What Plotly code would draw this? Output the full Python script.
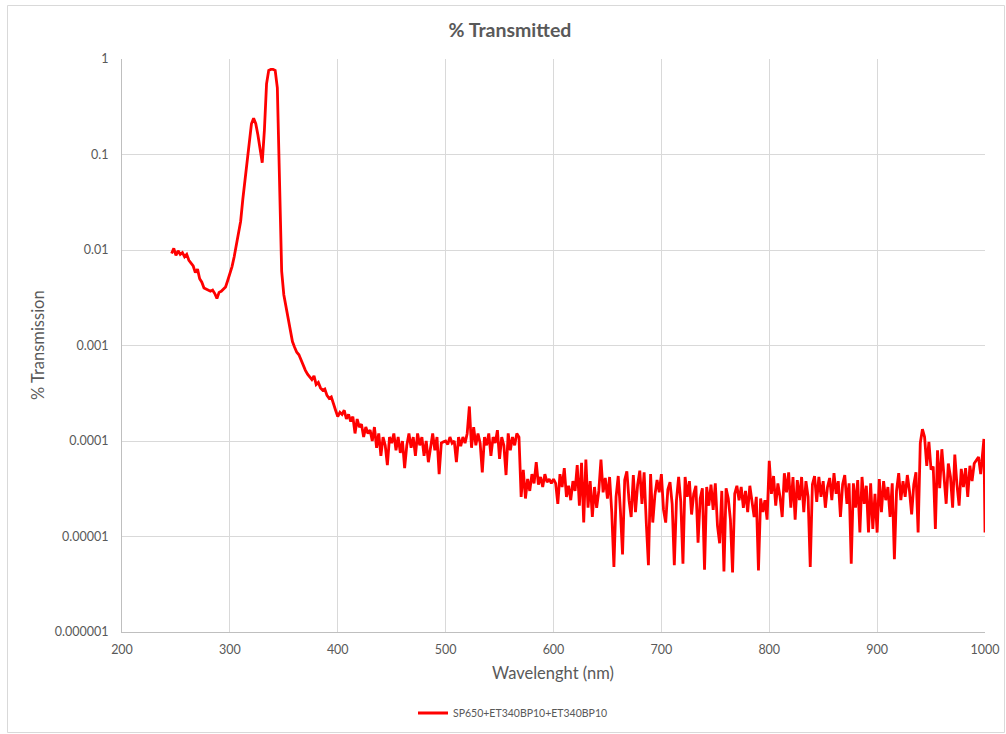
import plotly.graph_objects as go

# ---- data ----
series_name = "SP650+ET340BP10+ET340BP10"

transmission = [
    # 246-264
    0.0092, 0.0104, 0.0088, 0.0098, 0.0090, 0.0094, 0.0085, 0.0090, 0.0078, 0.0072,
    # 266-284
    0.0068, 0.0058, 0.0063, 0.0050, 0.0046, 0.0040, 0.0039, 0.0038, 0.0037, 0.0038,
    # 286-304
    0.0035, 0.0031, 0.0036, 0.0037, 0.0039, 0.0041, 0.0048, 0.0057, 0.0067, 0.0085,
    # 306-324
    0.0110, 0.0150, 0.0200, 0.0340, 0.0560, 0.0900, 0.1500, 0.2100, 0.2400, 0.2100,
    # 326-344
    0.1600, 0.1100, 0.0820, 0.1800, 0.5500, 0.7600, 0.7800, 0.7800, 0.7600, 0.5000,
    # 346-364
    0.0400, 0.0060, 0.0034, 0.0025, 0.0019, 0.0014, 0.0011, 0.00096, 0.00085, 0.00080,
    # 366-384
    0.00070, 0.00060, 0.00055, 0.00050, 0.00047, 0.00044, 0.00048, 0.00039, 0.00041, 0.00036,
    # 386-404
    0.00034, 0.00035, 0.00030, 0.00028, 0.00029, 0.00024, 0.00021, 0.00018, 0.00020, 0.00019,
    # 406-424
    0.00021, 0.00017, 0.00019, 0.00016, 0.00018, 0.00012, 0.00017, 0.00014, 0.00015, 0.00011,
    # 426-444
    0.00014, 0.00012, 0.00013, 0.00010, 0.00014, 0.000085, 0.00012, 0.00007, 0.00011, 0.00009,
    # 446-464
    0.000056, 0.00011, 0.000095, 0.00012, 0.00008, 0.00011, 0.000075, 0.00010, 0.000052, 0.00009,
    # 466-484
    0.00012, 0.000085, 0.00011, 0.00007, 0.00012, 0.00009, 0.00011, 0.00007, 0.00010, 0.00006,
    # 486-504
    0.000085, 0.00012, 0.00008, 0.00011, 0.000045, 0.000095, 0.000098, 0.00010, 0.000092, 0.00011,
    # 506-524
    0.000095, 0.00010, 0.00006, 0.00011, 0.000088, 0.00011, 0.000095, 0.00012, 0.00023, 0.000085,
    # 526-544
    0.00014, 0.00009, 0.00012, 0.000095, 0.000047, 0.00011, 0.00009, 0.00012, 0.00007, 0.00011,
    # 546-564
    0.000095, 0.00013, 0.000065, 0.00011, 0.00009, 0.000044, 0.00012, 0.00008, 0.00011, 0.00009,
    # 566-584
    0.00012, 0.00011, 0.000026, 0.00005, 0.000025, 0.00004, 0.00003, 0.000045, 0.000036, 0.00006,
    # 586-604
    3.5e-5, 4.2e-5, 3.3e-5, 4.5e-5, 3.7e-5, 4.0e-5, 3.6e-5, 4.0e-5, 3.6e-5, 2.2e-5,
    # 606-624
    4.5e-5, 3.3e-5, 5.2e-5, 2.6e-5, 3.4e-5, 2.4e-5, 3.8e-5, 3.0e-5, 5.6e-5, 2.1e-5,
    # 626-644
    5.9e-5, 1.4e-5, 6.4e-5, 2.0e-5, 3.8e-5, 1.6e-5, 3.3e-5, 2.0e-5, 3.0e-5, 6.4e-5,
    # 646-664
    2.9e-5, 4.1e-5, 2.5e-5, 4.2e-5, 1.8e-5, 4.8e-6, 2.6e-5, 4.3e-5, 1.9e-5, 6.5e-6,
    # 666-684
    3.9e-5, 4.8e-5, 2.4e-5, 1.6e-5, 4.4e-5, 1.8e-5, 3.5e-5, 4.9e-5, 2.2e-5, 4.7e-5,
    # 686-704
    1.4e-5, 5.0e-6, 4.5e-5, 1.4e-5, 2.7e-5, 3.9e-5, 2.9e-5, 4.5e-5, 1.9e-5, 1.4e-5,
    # 706-724
    3.1e-5, 3.7e-5, 2.2e-5, 5.0e-6, 2.4e-5, 4.2e-5, 2.3e-5, 5.2e-6, 4.2e-5, 2.6e-5,
    # 726-744
    3.8e-5, 1.7e-5, 2.8e-5, 3.4e-5, 8.6e-6, 2.5e-5, 3.2e-5, 4.5e-6, 3.3e-5, 2.1e-5,
    # 746-764
    3.5e-5, 1.9e-5, 3.6e-5, 1.3e-5, 8.5e-6, 3.0e-5, 4.3e-6, 3.2e-5, 2.5e-5, 1.5e-5,
    # 766-784
    4.2e-6, 2.8e-5, 3.4e-5, 2.4e-5, 3.3e-5, 2.0e-5, 3.0e-5, 1.8e-5, 3.4e-5, 2.4e-5,
    # 786-804
    1.6e-5, 2.6e-5, 4.4e-6, 2.5e-5, 1.8e-5, 2.4e-5, 1.5e-5, 6.2e-5, 2.8e-5, 4.3e-5,
    # 806-824
    2.1e-5, 3.6e-5, 2.6e-5, 1.6e-5, 4.6e-5, 2.9e-5, 4.7e-5, 2.0e-5, 4.2e-5, 1.5e-5,
    # 826-844
    3.9e-5, 2.4e-5, 4.2e-5, 1.8e-5, 3.8e-5, 2.6e-5, 4.8e-6, 3.5e-5, 4.3e-5, 2.3e-5,
    # 846-864
    4.2e-5, 2.6e-5, 3.8e-5, 2.0e-5, 3.3e-5, 4.1e-5, 2.4e-5, 4.6e-5, 2.8e-5, 3.8e-5,
    # 866-884
    1.6e-5, 3.5e-5, 4.4e-5, 2.2e-5, 3.6e-5, 5.2e-6, 3.6e-5, 2.0e-5, 3.9e-5, 1.1e-5,
    # 886-904
    4.2e-5, 2.2e-5, 3.4e-5, 1.1e-5, 3.6e-5, 1.2e-5, 2.8e-5, 1.1e-5, 4.0e-5, 1.8e-5,
    # 906-924
    3.8e-5, 2.4e-5, 3.3e-5, 1.6e-5, 3.6e-5, 5.8e-6, 3.0e-5, 4.6e-5, 2.4e-5, 3.8e-5,
    # 926-944
    2.6e-5, 4.4e-5, 3.0e-5, 1.7e-5, 3.5e-5, 4.7e-5, 1.1e-5, 9.5e-5, 1.33e-4, 1.1e-4,
    # 946-964
    5.5e-5, 9.8e-5, 5.0e-5, 5.4e-5, 1.2e-5, 8.0e-5, 3.2e-5, 8.2e-5, 4.0e-5, 2.2e-5,
    # 966-984
    5.8e-5, 4.2e-5, 2.0e-5, 7.2e-5, 3.5e-5, 2.1e-5, 5.1e-5, 3.3e-5, 5.2e-5, 2.6e-5,
    # 986-998, 999, 1000
    5.5e-5, 3.8e-5, 5.8e-5, 6.3e-5, 6.8e-5, 4.5e-5, 7.5e-5, 1.05e-4, 1.1e-5,
]

wavelength = list(range(246, 999, 2)) + [999, 1000]

x_ticks = [200, 300, 400, 500, 600, 700, 800, 900, 1000]
y_tick_vals = [1, 0.1, 0.01, 0.001, 0.0001, 0.00001, 0.000001]
y_tick_text = ["1", "0.1", "0.01", "0.001", "0.0001", "0.00001", "0.000001"]

# ---- figure ----
W, H = 1006, 734
ML, MR, MT, MB = 122, 21, 59, 102
PW, PH = W - ML - MR, H - MT - MB

def px_x(p):
    return (p - ML) / PW

def px_y(p):
    return 1 - (p - MT) / PH

FONT = "Lato, 'Open Sans', sans-serif"
GREY_TXT = "#595959"
GRID = "#d9d9d9"

fig = go.Figure()
fig.add_trace(go.Scatter(
    x=wavelength, y=transmission, mode="lines", name=series_name,
    line=dict(color="#ff0000", width=2.8),
))

fig.update_layout(
    width=W, height=H,
    margin=dict(l=ML, r=MR, t=MT, b=MB, autoexpand=False),
    paper_bgcolor="white", plot_bgcolor="white",
    font=dict(family=FONT, color=GREY_TXT, size=12),
    title=dict(text="<b>% Transmitted</b>", x=510 / W, y=1 - 30 / H,
               xref="container", yref="container",
               xanchor="center", yanchor="middle",
               font=dict(size=19.5, color=GREY_TXT, family=FONT)),
    showlegend=True,
    legend=dict(orientation="h", xref="container", yref="container",
                x=513 / W, xanchor="center",
                y=1 - 713 / H, yanchor="middle",
                font=dict(size=10.5, color=GREY_TXT, family=FONT),
                bgcolor="rgba(0,0,0,0)", itemwidth=30),
    xaxis=dict(range=[200, 1000], tickmode="array", tickvals=x_ticks,
               showgrid=True, gridcolor=GRID, gridwidth=1,
               showline=True, linecolor="#bfbfbf", linewidth=1,
               zeroline=False, ticks="", tickfont=dict(size=12.5),
               ticklabelstandoff=6, automargin=False),
    yaxis=dict(type="log", range=[-6, 0], tickmode="array",
               tickvals=y_tick_vals, ticktext=y_tick_text,
               showgrid=True, gridcolor=GRID, gridwidth=1,
               showline=True, linecolor="#bfbfbf", linewidth=1,
               zeroline=False, ticks="", tickfont=dict(size=12.5),
               ticklabelstandoff=10, automargin=False),
    annotations=[
        dict(text="Wavelenght (nm)", xref="paper", yref="paper",
             x=px_x(553), y=px_y(673), xanchor="center", yanchor="middle",
             showarrow=False, font=dict(size=16.5, color=GREY_TXT, family=FONT)),
        dict(text="% Transmission", xref="paper", yref="paper",
             x=px_x(38), y=px_y(345), xanchor="center", yanchor="middle",
             textangle=-90, showarrow=False,
             font=dict(size=16.5, color=GREY_TXT, family=FONT)),
    ],
    shapes=[
        dict(type="rect", xref="paper", yref="paper",
             x0=px_x(7.5), x1=px_x(1004.5), y0=px_y(732.5), y1=px_y(5.5),
             line=dict(color=GRID, width=1), fillcolor="rgba(0,0,0,0)",
             layer="below"),
    ],
)

fig.write_html("out.html")
